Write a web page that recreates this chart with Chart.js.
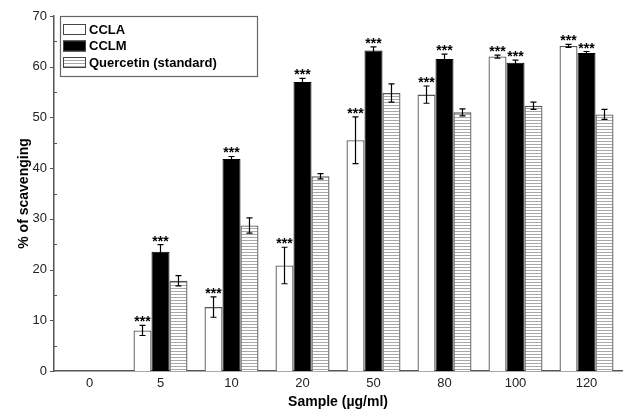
<!DOCTYPE html>
<html>
<head>
<meta charset="utf-8">
<script src="https://cdn.jsdelivr.net/npm/chart.js@4"></script>
<style>
  html, body { margin: 0; padding: 0; background: #fff; }
  #wrap { width: 627px; height: 410px; }
</style>
</head>
<body>
<div id="wrap"><canvas id="chart" width="627" height="410"></canvas></div>
<script>
const samples = ['0', '5', '10', '20', '50', '80', '100', '120'];
const cclaValues = [null, 8.0, 12.6, 20.8, 45.5, 54.5, 62.0, 64.1];
const cclaErrors = [null, 1.0, 2.0, 3.6, 4.6, 1.7, 0.3, 0.3];
const cclmValues = [null, 23.5, 41.8, 57.0, 63.2, 61.5, 60.8, 62.7];
const cclmErrors = [null, 1.4, 0.5, 0.7, 0.7, 1.0, 0.5, 0.3];
const quercetinValues = [null, 17.8, 28.7, 38.4, 54.8, 51.0, 52.3, 50.6];
const quercetinErrors = [null, 1.0, 1.5, 0.5, 1.8, 0.7, 0.7, 1.0];
const yTicks = [0, 10, 20, 30, 40, 50, 60, 70];

const FONT = "'Liberation Sans', Arial, sans-serif";

// horizontal hatch for the standard
function makeHatch() {
    const c = document.createElement('canvas');
    c.width = 4; c.height = 3;
    const g = c.getContext('2d');
    g.fillStyle = '#fff';
    g.fillRect(0, 0, 4, 3);
    g.fillStyle = '#a8a8a8';
    g.fillRect(0, 0, 4, 1);
    return g.createPattern(c, 'repeat');
}
const hatch = makeHatch();

const errorSets = [cclaErrors, cclmErrors, quercetinErrors];
const starSets = [true, true, false];

const errorBars = {
    id: 'errorBars',
    afterDatasetsDraw(chart) {
        const ctx = chart.ctx;
        const y = chart.scales.y;
        ctx.save();
        chart.data.datasets.forEach((ds, i) => {
            const meta = chart.getDatasetMeta(i);
            meta.data.forEach((bar, j) => {
                const v = ds.data[j];
                const e = errorSets[i][j];
                if (v === null || e === null) return;
                const top = y.getPixelForValue(v + e);
                const bot = y.getPixelForValue(v - e);
                ctx.strokeStyle = '#000';
                ctx.lineWidth = 1.2;
                ctx.beginPath();
                ctx.moveTo(bar.x, top); ctx.lineTo(bar.x, bot);
                ctx.moveTo(bar.x - 3, top); ctx.lineTo(bar.x + 3, top);
                ctx.moveTo(bar.x - 3, bot); ctx.lineTo(bar.x + 3, bot);
                ctx.stroke();
                if (starSets[i]) {
                    ctx.fillStyle = '#000';
                    ctx.font = 'bold 14px ' + FONT;
                    ctx.textAlign = 'center';
                    ctx.textBaseline = 'alphabetic';
                    ctx.fillText('***', bar.x, top + 1);
                }
            });
        });
        ctx.restore();
    }
};

// major ticks outward, minor ticks inward on the y axis
const yTickMarks = {
    id: 'yTickMarks',
    afterDraw(chart) {
        const ctx = chart.ctx;
        const y = chart.scales.y;
        const x0 = chart.chartArea.left;
        ctx.save();
        ctx.strokeStyle = '#555';
        ctx.lineWidth = 1;
        for (let v = 0; v <= 70; v += 5) {
            const py = Math.round(y.getPixelForValue(v)) + 0.5;
            ctx.beginPath();
            if (v % 10 === 0) {
                ctx.moveTo(x0 - 4, py); ctx.lineTo(x0, py);
            } else {
                ctx.moveTo(x0, py); ctx.lineTo(x0 + 3, py);
            }
            ctx.stroke();
        }
        ctx.restore();
    }
};

// boxed legend in the upper left corner
const boxLegend = {
    id: 'boxLegend',
    afterDraw(chart) {
        const ctx = chart.ctx;
        const left = chart.chartArea.left + 6;
        const top = chart.chartArea.top;
        ctx.save();
        ctx.fillStyle = '#fff';
        ctx.fillRect(left, top, 197, 60);
        ctx.strokeStyle = '#666';
        ctx.lineWidth = 1.2;
        ctx.strokeRect(left + 0.5, top + 0.5, 197, 60);
        chart.data.datasets.forEach((ds, i) => {
            const ry = top + 13 + i * 16.5;
            ctx.fillStyle = ds.backgroundColor;
            ctx.fillRect(left + 3, ry - 5, 23, 11);
            ctx.strokeStyle = '#444';
            ctx.lineWidth = 1;
            ctx.strokeRect(left + 3.5, ry - 4.5, 22, 10);
            ctx.fillStyle = '#000';
            ctx.font = 'bold 13px ' + FONT;
            ctx.textAlign = 'left';
            ctx.textBaseline = 'middle';
            ctx.fillText(ds.label, left + 29, ry + 1);
        });
        ctx.restore();
    }
};

new Chart(document.getElementById('chart'), {
    type: 'bar',
    data: {
        labels: samples,
        datasets: [
            { label: 'CCLA', data: cclaValues, backgroundColor: '#fff', borderColor: '#555', borderWidth: 1.3 },
            { label: 'CCLM', data: cclmValues, backgroundColor: '#000', borderColor: '#000', borderWidth: 1 },
            { label: 'Quercetin (standard)', data: quercetinValues, backgroundColor: hatch, borderColor: '#555', borderWidth: 1.3 }
        ]
    },
    options: {
        responsive: false,
        animation: false,
        devicePixelRatio: 1,
        layout: { padding: { top: 16, right: 5, left: 0, bottom: 0 } },
        datasets: { bar: { categoryPercentage: 0.76, barPercentage: 1.0, borderSkipped: 'bottom' } },
        plugins: { legend: { display: false }, tooltip: { enabled: false } },
        scales: {
            x: {
                grid: { display: false, drawTicks: false },
                border: { display: true, color: '#555', width: 1.5 },
                ticks: { color: '#222', font: { family: FONT, size: 13 }, padding: 5 },
                title: { display: true, text: 'Sample (µg/ml)', color: '#000', font: { family: FONT, size: 14, weight: 'bold' }, padding: { top: 0, bottom: -1 } },
                afterFit(s) { s.height = 39; }
            },
            y: {
                min: 0, max: 70,
                afterBuildTicks(s) { s.ticks = yTicks.map(v => ({ value: v })); },
                grid: { display: false, drawTicks: false },
                border: { display: true, color: '#555', width: 1.5 },
                ticks: { color: '#222', font: { family: FONT, size: 13 }, padding: 7 },
                title: { display: true, text: '% of scavenging', color: '#000', font: { family: FONT, size: 14, weight: 'bold' }, padding: { top: 16, bottom: 4 } },
                afterFit(s) { s.width = 54; }
            }
        }
    },
    plugins: [errorBars, yTickMarks, boxLegend]
});
</script>
</body>
</html>
